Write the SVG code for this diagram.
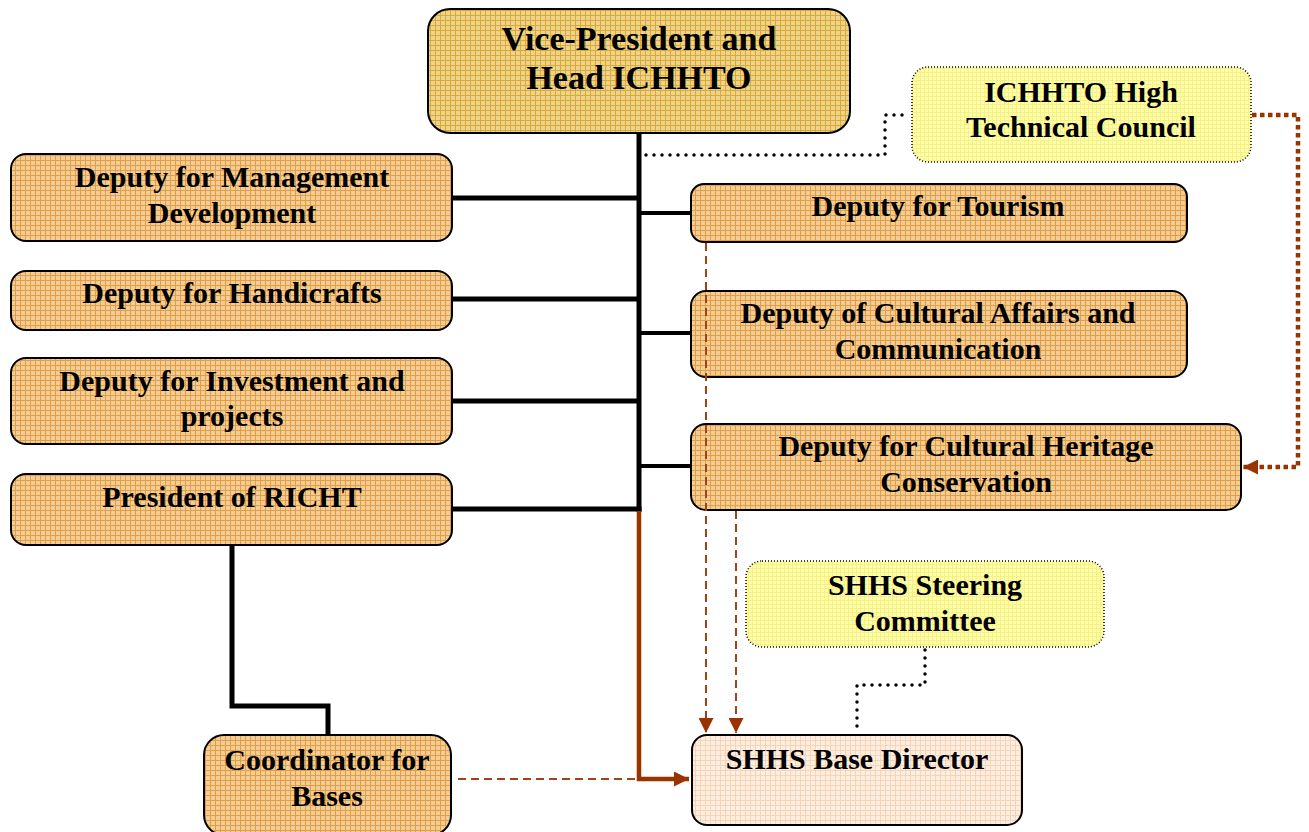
<svg xmlns="http://www.w3.org/2000/svg" width="1309" height="832" viewBox="0 0 1309 832">
<defs>
<pattern id="pOrange" width="5" height="5" patternUnits="userSpaceOnUse"><rect width="5" height="5" fill="#F3CD96"/><path d="M0 0.5H5M0.5 0V5" stroke="#E39E45" stroke-width="1"/></pattern>
<pattern id="pGold" width="5" height="5" patternUnits="userSpaceOnUse"><rect width="5" height="5" fill="#EDD48A"/><path d="M0 0.5H5M0.5 0V5" stroke="#D9A93A" stroke-width="1"/></pattern>
<pattern id="pYellow" width="4" height="4" patternUnits="userSpaceOnUse"><rect width="4" height="4" fill="#FFFFA8"/><path d="M0 0.5H4M0.5 0V4" stroke="#F6F08A" stroke-width="1"/></pattern>
<pattern id="pPeach" width="5" height="5" patternUnits="userSpaceOnUse"><rect width="5" height="5" fill="#FEEEE0"/><path d="M0 0.5H5M0.5 0V5" stroke="#F7D4B8" stroke-width="1"/></pattern>
<marker id="arr" markerUnits="userSpaceOnUse" markerWidth="15" markerHeight="15" viewBox="0 0 15 15" refX="15" refY="7.5" orient="auto"><path d="M0 0L15 7.5L0 15z" fill="#993300"/></marker>
</defs>
<style>
.box{fill:url(#pOrange);stroke:#000;stroke-width:2}
.top{fill:url(#pGold);stroke:#000;stroke-width:2}
.council{fill:url(#pYellow);stroke:#000;stroke-width:1.5;stroke-dasharray:1 2}
.base{fill:url(#pPeach);stroke:#000;stroke-width:2}
text{font-family:"Liberation Serif","Times New Roman",serif;font-weight:bold;font-size:30px;fill:#000;text-anchor:middle}
.big{font-size:34px}
.solid{fill:none;stroke:#000;stroke-width:5}
.solid4{fill:none;stroke:#000;stroke-width:4}
.brown{fill:none;stroke:#993300;stroke-width:4.5}
.dash{fill:none;stroke:#A0421A;stroke-width:2;stroke-dasharray:8 5}
.dots{fill:none;stroke:#000;stroke-width:3.5;stroke-linecap:round;stroke-dasharray:0 8}
.bdots{fill:none;stroke:#993300;stroke-width:4.5;stroke-dasharray:4.5 3.5}
</style>

<g id="n-vp"><rect class="top" x="428" y="9" width="422" height="124" rx="22"/><text class="big" x="639" y="50">Vice-President and</text><text class="big" x="639" y="89">Head ICHHTO</text></g>
<g id="n-council"><rect class="council" x="912" y="67" width="339" height="95" rx="16"/><text x="1081" y="102">ICHHTO High</text><text x="1081" y="137">Technical Council</text></g>
<g id="n-mgmt"><rect class="box" x="11" y="154" width="441" height="87" rx="15"/><text x="232" y="187">Deputy for Management</text><text x="232" y="223">Development</text></g>
<g id="n-handi"><rect class="box" x="11" y="271" width="441" height="59" rx="15"/><text x="232" y="303">Deputy for Handicrafts</text></g>
<g id="n-invest"><rect class="box" x="11" y="358" width="441" height="86" rx="15"/><text x="232" y="391">Deputy for Investment and</text><text x="232" y="426">projects</text></g>
<g id="n-richt"><rect class="box" x="11" y="474" width="441" height="71" rx="15"/><text x="232" y="507">President of RICHT</text></g>
<g id="n-tourism"><rect class="box" x="691" y="184" width="496" height="58" rx="13"/><text x="938" y="216">Deputy for Tourism</text></g>
<g id="n-cultural"><rect class="box" x="691" y="291" width="496" height="86" rx="15"/><text x="938" y="323">Deputy of Cultural Affairs and</text><text x="938" y="359">Communication</text></g>
<g id="n-heritage"><rect class="box" x="691" y="424" width="550" height="86" rx="15"/><text x="966" y="456">Deputy for Cultural Heritage</text><text x="966" y="492">Conservation</text></g>
<g id="n-steering"><rect class="council" x="746" y="561" width="358" height="86" rx="16"/><text x="925" y="595">SHHS Steering</text><text x="925" y="631">Committee</text></g>
<g id="n-base"><rect class="base" x="692" y="735" width="330" height="90" rx="15"/><text x="857" y="769">SHHS Base Director</text></g>
<g id="n-coord"><rect class="box" x="204" y="735" width="247" height="100" rx="20"/><text x="327" y="770">Coordinator for</text><text x="327" y="806">Bases</text></g>

<g id="connectors">
<path class="solid" d="M639 133V512"/>
<path class="solid" d="M452 198H639"/>
<path class="solid" d="M452 299H639"/>
<path class="solid" d="M452 401H639"/>
<path class="solid" d="M452 509H641.5"/>
<path class="solid4" d="M639 213H691"/>
<path class="solid4" d="M639 333H691"/>
<path class="solid4" d="M639 466H691"/>
<path class="solid" d="M232 545V706H328V735"/>
<path class="brown" d="M639 511V779H689" marker-end="url(#arr)"/>
<path class="dash" d="M458 779H636"/>
<path class="dash" d="M706 243V733" marker-end="url(#arr)"/>
<path class="dash" d="M736 511V733" marker-end="url(#arr)"/>
<path class="dots" d="M646 155H885V115H910"/>
<path class="dots" d="M925 650V685H857V733"/>
<path class="bdots" d="M1252 115H1298V467H1243" marker-end="url(#arr)"/>
</g>
</svg>
